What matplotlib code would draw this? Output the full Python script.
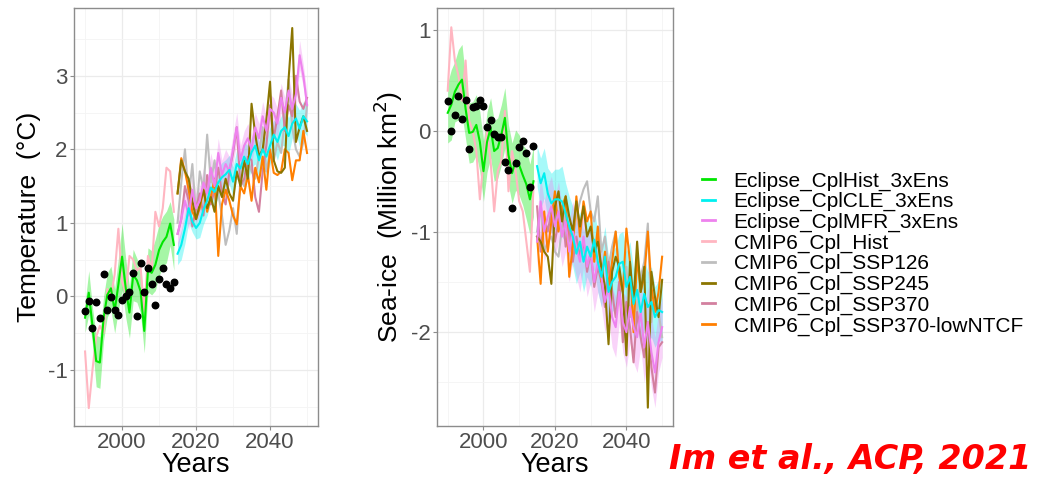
import matplotlib
matplotlib.use("Agg")
import matplotlib.pyplot as plt
from matplotlib.lines import Line2D

plt.rcParams['font.family'] = ['Liberation Sans', 'DejaVu Sans']
plt.rcParams['axes.unicode_minus'] = False

# DATA
hist_years = list(range(1990, 2015))
fut_years = list(range(2015, 2051))

# observations (black dots)
obs_T = [-0.20, -0.06, -0.43, -0.07, -0.30, 0.30, -0.19, -0.01, -0.18, -0.25,
         -0.05, 0.00, 0.06, 0.32, -0.27, 0.45, 0.06, 0.38, 0.17, -0.12,
         0.23, 0.39, 0.17, 0.11, 0.20]
obs_S = [0.30, 0.00, 0.16, 0.35, 0.12, 0.31, -0.18, 0.24, 0.25, 0.31,
         0.25, 0.04, 0.11, -0.03, -0.06, -0.06, -0.31, -0.39, -0.77, -0.32,
         -0.16, -0.10, -0.22, -0.56, -0.15]

# Eclipse_CplHist_3xEns (mean + ribbon half-width)
hist_T = [-0.29, 0.05, -0.40, -0.88, -0.90, -0.30, 0.02, 0.11, -0.20, 0.16,
          0.54, 0.11, -0.22, 0.29, 0.22, 0.07, -0.47, 0.36, 0.32, 0.43,
          0.63, 0.74, 0.81, 0.99, 0.70]
hist_T_sd = [0.20, 0.30, 0.25, 0.35, 0.35, 0.30, 0.30, 0.30, 0.30, 0.35,
             0.45, 0.40, 0.35, 0.35, 0.30, 0.30, 0.30, 0.30, 0.30, 0.35,
             0.35, 0.35, 0.35, 0.30, 0.35]
hist_S = [0.18, 0.26, 0.39, 0.46, 0.51, 0.22, -0.02, -0.01, 0.06, -0.11,
          -0.40, -0.11, 0.03, -0.20, -0.17, -0.04, 0.13, -0.24, -0.42, -0.29,
          -0.34, -0.44, -0.53, -0.68, -0.50]
hist_S_sd = [0.30, 0.35, 0.30, 0.35, 0.35, 0.30, 0.30, 0.30, 0.30, 0.30,
             0.30, 0.30, 0.30, 0.30, 0.30, 0.30, 0.30, 0.30, 0.30, 0.30,
             0.30, 0.30, 0.35, 0.35, 0.35]

# CMIP6_Cpl_Hist
cmip_hist_T = [-0.75, -1.52, -1.00, -0.55, -0.40, -0.50, 0.10, 0.00, 0.30, 0.92,
               0.20, 0.05, 0.55, 0.50, 0.35, 0.40, -0.20, 0.55, 0.35, 1.15,
               0.95, 1.20, 1.75, 1.70, 1.15]
cmip_hist_S = [0.40, 1.03, 0.70, 0.55, 0.30, 0.70, 0.10, 0.00, -0.20, -0.68,
               -0.30, 0.00, -0.30, -0.80, -0.40, -0.30, 0.20, -0.60, -0.20, -0.40,
               -0.70, -0.80, -1.10, -1.40, -0.55]

# Eclipse_CplCLE_3xEns
cle_T = [0.58, 0.70, 0.92, 1.20, 1.02, 0.93, 1.00, 1.18, 1.30, 1.48,
         1.42, 1.55, 1.62, 1.66, 1.72, 1.56, 1.80, 1.74, 1.90, 1.80,
         1.96, 2.05, 1.85, 2.00, 1.90, 2.05, 2.20, 2.10, 2.25, 2.30,
         2.18, 2.35, 2.42, 2.28, 2.45, 2.38]
cle_T_sd = [0.15, 0.20, 0.20, 0.20, 0.15, 0.15, 0.20, 0.20, 0.20, 0.20,
            0.20, 0.20, 0.20, 0.20, 0.20, 0.20, 0.20, 0.20, 0.20, 0.25,
            0.20, 0.25, 0.25, 0.20, 0.25, 0.25, 0.20, 0.25, 0.20, 0.25,
            0.25, 0.20, 0.20, 0.25, 0.20, 0.20]
cle_S = [-0.35, -0.52, -0.42, -0.62, -0.72, -0.68, -0.68, -0.70, -0.82, -0.95,
         -1.05, -1.22, -1.10, -1.30, -1.15, -1.25, -1.08, -1.30, -1.45, -1.25,
         -1.60, -1.50, -1.45, -1.32, -1.30, -1.55, -1.45, -1.72, -1.58, -1.80,
         -1.62, -1.75, -1.70, -1.85, -1.78, -1.80]
cle_S_sd = [0.20, 0.25, 0.25, 0.25, 0.30, 0.30, 0.30, 0.35, 0.30, 0.30,
            0.30, 0.30, 0.30, 0.30, 0.30, 0.30, 0.30, 0.30, 0.30, 0.30,
            0.35, 0.30, 0.30, 0.30, 0.30, 0.35, 0.35, 0.35, 0.35, 0.35,
            0.35, 0.35, 0.35, 0.30, 0.30, 0.30]

# Eclipse_CplMFR_3xEns
mfr_T = [0.85, 1.05, 1.30, 1.10, 1.45, 1.20, 1.30, 1.55, 1.40, 1.75,
         1.50, 1.95, 1.65, 1.80, 1.70, 2.00, 2.30, 1.85, 2.05, 2.15,
         2.00, 2.30, 2.15, 2.45, 2.25, 2.55, 2.50, 2.35, 2.70, 2.50,
         2.80, 2.55, 2.75, 3.28, 3.00, 2.60]
mfr_T_sd = [0.20, 0.20, 0.20, 0.20, 0.20, 0.20, 0.20, 0.20, 0.20, 0.20,
            0.20, 0.20, 0.20, 0.20, 0.20, 0.20, 0.20, 0.20, 0.20, 0.20,
            0.20, 0.20, 0.20, 0.20, 0.20, 0.20, 0.20, 0.20, 0.20, 0.20,
            0.20, 0.20, 0.20, 0.20, 0.15, 0.15]
mfr_S = [-1.10, -0.70, -1.00, -0.85, -0.75, -0.95, -0.80, -1.05, -0.90, -1.20,
         -1.00, -1.15, -1.30, -1.05, -1.35, -1.20, -1.50, -1.30, -1.45, -1.70,
         -1.55, -1.85, -1.95, -1.60, -1.90, -2.00, -1.75, -1.95, -2.05, -1.80,
         -2.15, -1.90, -2.20, -2.40, -2.10, -1.95]
mfr_S_sd = [0.25, 0.25, 0.30, 0.30, 0.30, 0.30, 0.30, 0.30, 0.30, 0.30,
            0.30, 0.30, 0.30, 0.30, 0.30, 0.30, 0.30, 0.30, 0.30, 0.30,
            0.30, 0.30, 0.30, 0.30, 0.30, 0.35, 0.35, 0.35, 0.35, 0.35,
            0.35, 0.35, 0.35, 0.35, 0.30, 0.30]

# CMIP6 scenarios
ssp126_T = [1.00, 1.55, 2.00, 1.35, 1.80, 1.10, 1.70, 1.45, 2.20, 1.55,
            1.85, 1.40, 1.10, 0.70, 0.90, 1.20, 0.85, 1.60, 1.50, 1.85,
            1.70, 1.60, 1.90, 2.30, 1.70, 1.95, 1.85, 2.10, 1.95, 2.40,
            2.95, 2.30, 2.00, 1.90, 2.10, 2.60]
ssp245_T = [1.40, 1.85, 1.70, 1.60, 1.30, 1.05, 1.25, 1.45, 1.20, 1.35,
            1.15, 1.50, 1.35, 1.60, 1.40, 1.30, 1.70, 1.50, 1.85, 1.60,
            2.62, 2.20, 1.90, 2.00, 2.40, 2.92, 1.85, 1.70, 1.68, 1.75,
            2.95, 3.65, 2.10, 2.30, 2.45, 2.25]
ssp370_T = [0.85, 1.05, 1.50, 1.30, 0.95, 1.20, 1.40, 1.10, 1.65, 1.25,
            1.45, 1.75, 1.40, 1.25, 1.70, 1.95, 2.30, 1.50, 1.60, 1.90,
            1.85, 1.35, 1.15, 1.70, 2.05, 2.60, 2.15, 2.45, 2.80, 2.25,
            2.60, 2.45, 3.00, 2.65, 2.55, 2.70]
lowntcf_T = [1.40, 1.88, 1.70, 1.45, 1.15, 1.05, 1.20, 1.45, 1.15, 1.35,
             1.60, 0.55, 1.25, 1.45, 1.30, 1.10, 0.98, 1.50, 1.40, 1.65,
             1.30, 1.75, 1.55, 1.90, 1.45, 2.00, 1.68, 1.65, 1.70, 2.00,
             1.95, 1.58, 1.85, 1.85, 2.25, 1.95]

ssp126_S = [-1.00, -0.75, -1.20, -1.10, -1.05, -1.20, -1.25, -0.95, -0.75, -1.10,
            -1.05, -0.85, -0.70, -0.58, -0.50, -0.80, -0.90, -0.65, -1.20, -1.05,
            -1.35, -1.15, -1.00, -1.40, -1.60, -1.35, -1.85, -1.55, -1.80, -1.45,
            -1.30, -0.92, -1.90, -1.65, -1.80, -2.05]
ssp245_S = [-1.05, -1.10, -1.20, -1.25, -1.52, -0.75, -0.60, -0.90, -0.65, -0.85,
            -1.00, -0.70, -0.95, -0.75, -1.05, -0.95, -1.20, -1.10, -1.35, -1.55,
            -2.12, -1.40, -1.25, -1.35, -1.60, -2.23, -1.30, -1.70, -1.10, -1.60,
            -1.35, -2.75, -1.40, -1.65, -1.85, -1.48]
ssp370_S = [-0.75, -1.20, -0.85, -1.00, -0.80, -1.10, -0.90, -0.75, -1.15, -0.95,
            -1.30, -1.05, -1.25, -1.10, -1.40, -1.20, -1.55, -1.35, -1.50, -1.75,
            -1.30, -1.60, -1.85, -1.50, -2.10, -1.70, -1.95, -2.30, -1.80, -2.05,
            -2.25, -1.90, -2.35, -2.60, -2.15, -2.10]
lowntcf_S = [-1.05, -1.52, -0.80, -1.20, -0.90, -0.60, -1.00, -0.75, -0.65, -1.45,
             -1.15, -0.65, -1.05, -0.70, -0.90, -0.80, -1.30, -0.95, -1.50, -1.20,
             -1.55, -1.30, -1.00, -1.45, -1.60, -0.97, -1.30, -2.00, -1.25, -1.60,
             -1.45, -1.00, -1.55, -1.80, -1.60, -1.25]

labels = ["Eclipse_CplHist_3xEns", "Eclipse_CplCLE_3xEns", "Eclipse_CplMFR_3xEns",
          "CMIP6_Cpl_Hist", "CMIP6_Cpl_SSP126", "CMIP6_Cpl_SSP245",
          "CMIP6_Cpl_SSP370", "CMIP6_Cpl_SSP370-lowNTCF"]
colors = ["#00E600", "#00F0F0", "#EE82EE", "#FFB6C1", "#BEBEBE", "#8B7500",
          "#D3809F", "#FF7F00"]

fig = plt.figure(figsize=(10.39, 4.8), dpi=100)
ax1 = fig.add_axes([0.0712, 0.113, 0.235, 0.870])
ax2 = fig.add_axes([0.4206, 0.113, 0.227, 0.870])


def band(ax, yrs, mean, sd, col):
    lo = [m - s for m, s in zip(mean, sd)]
    hi = [m + s for m, s in zip(mean, sd)]
    ax.fill_between(yrs, lo, hi, color=col, alpha=0.35, lw=0)


def panel(ax, obs, hist, hist_sd, chist, cle, cle_sd, mfr, mfr_sd,
          s126, s245, s370, slow):
    band(ax, hist_years, hist, hist_sd, colors[0])
    band(ax, fut_years, cle, cle_sd, colors[1])
    band(ax, fut_years, mfr, mfr_sd, colors[2])
    lw = 1.5
    ax.plot(hist_years, chist, color=colors[3], lw=lw)
    ax.plot(fut_years, s126, color=colors[4], lw=lw)
    ax.plot(fut_years, s370, color=colors[6], lw=lw)
    ax.plot(fut_years, slow, color=colors[7], lw=lw)
    ax.plot(fut_years, s245, color=colors[5], lw=lw)
    ax.plot(fut_years, mfr, color=colors[2], lw=lw)
    ax.plot(fut_years, cle, color=colors[1], lw=lw)
    ax.plot(hist_years, hist, color=colors[0], lw=lw)
    ax.scatter(hist_years, obs, s=22, color="black", zorder=5)
    ax.set_xlim(1987, 2053)
    ax.set_xticks([2000, 2020, 2040])
    ax.set_xticks([1990, 2010, 2030, 2050], minor=True)
    ax.grid(True, which="major", color="#EBEBEB", lw=0.9)
    ax.grid(True, which="minor", color="#F4F4F4", lw=0.6)
    ax.set_axisbelow(True)
    for sp in ax.spines.values():
        sp.set_color("#8C8C8C")
        sp.set_linewidth(1.0)
    ax.tick_params(which="major", colors="#8C8C8C", labelcolor="#4D4D4D",
                   labelsize=16, length=3, width=0.8, pad=1.5)
    ax.tick_params(which="minor", length=0)
    ax.set_xlabel("Years", fontsize=19.5, labelpad=-0.5)


panel(ax1, obs_T, hist_T, hist_T_sd, cmip_hist_T, cle_T, cle_T_sd, mfr_T, mfr_T_sd,
      ssp126_T, ssp245_T, ssp370_T, lowntcf_T)
ax1.set_ylim(-1.76, 3.92)
ax1.set_yticks([-1, 0, 1, 2, 3])
ax1.set_yticks([-1.5, -0.5, 0.5, 1.5, 2.5, 3.5], minor=True)
ax1.set_ylabel("Temperature  (°C)", fontsize=19, labelpad=5)

panel(ax2, obs_S, hist_S, hist_S_sd, cmip_hist_S, cle_S, cle_S_sd, mfr_S, mfr_S_sd,
      ssp126_S, ssp245_S, ssp370_S, lowntcf_S)
ax2.set_ylim(-2.93, 1.22)
ax2.set_yticks([-2, -1, 0, 1])
ax2.set_yticks([-2.5, -1.5, -0.5, 0.5], minor=True)
ax2.set_ylabel("Sea-ice  (Million km$^2$)", fontsize=19, labelpad=4)

handles = [Line2D([], [], color=c, lw=2) for c in colors]
fig.legend(handles, labels, loc="center left", bbox_to_anchor=(0.668, 0.472),
           frameon=False, fontsize=15, handlelength=0.6, handletextpad=0.9,
           labelspacing=0.07, borderaxespad=0)

fig.text(0.993, 0.042, "Im et al., ACP, 2021", color="red", fontsize=24,
         fontstyle="italic", fontweight="bold", ha="right", va="center",
         family="DejaVu Sans")

fig.savefig("out.png", dpi=100)
